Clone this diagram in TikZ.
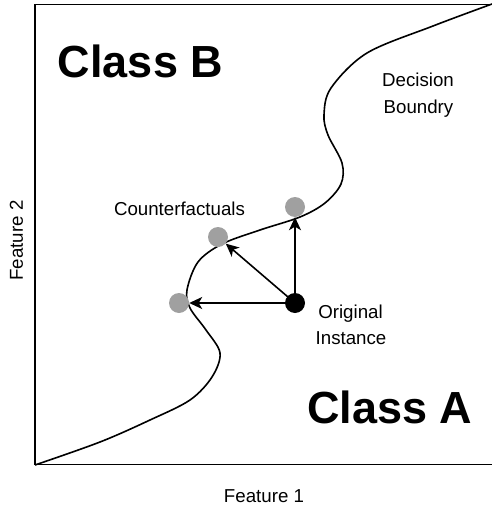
\documentclass[tikz,border=0pt]{standalone}
\usepackage{fontspec}
\setmainfont{Liberation Sans}
\usetikzlibrary{arrows.meta}
\definecolor{dotgray}{RGB}{160,160,160}
\begin{document}
\begin{tikzpicture}[x=1pt,y=-1pt,
  frame/.style={line width=1.6pt,line cap=butt},
  boundary/.style={line width=1.6pt},
  dot/.style={circle,minimum size=20pt,inner sep=0pt,draw=none},
  arr/.style={line width=1.6pt,-{Stealth[length=13pt,width=12pt,inset=3.5pt]}},
  small/.style={font=\fontsize{18.7}{22}\selectfont,inner sep=0pt,anchor=base},
  big/.style={font=\fontsize{45}{50}\selectfont\bfseries,inner sep=0pt,anchor=base}]
\useasboundingbox (0,0) rectangle (492,506);
\draw[frame] (493,4.5) -- (35,4.5) -- (35,464.5) -- (493,464.5);
\draw[boundary] plot[smooth,tension=0.55] coordinates {
  (35,465) (100,442) (150,420) (190,400) (212,377) (220,353) (206,330)
  (190,308) (187,290) (198,262) (222,244) (260,230) (300,217) (325,203)
  (341,184) (342,163) (328,135) (324,115) (331,88) (367,53) (433,26) (492,4)};
\node[dot,fill=dotgray] (cfL) at (179,303) {};
\node[dot,fill=dotgray] (cfM) at (218,237) {};
\node[dot,fill=dotgray] (cfT) at (295,207) {};
\node[dot,fill=black] (orig) at (295,303) {};
\draw[arr] (orig.center) -- (cfL);
\draw[arr] (orig.center) -- (cfM);
\draw[arr] (orig.center) -- (cfT);
\node[big] (clB) at (140.5,77) {Class B};
\node[big] (clA) at (390,423) {Class A};
\node[small] (dec1) at (418,86) {Decision};
\node[small] (dec2) at (418.5,113) {Boundry};
\node[small] (cft) at (179.5,215) {Counterfactuals};
\node[small] (or1) at (350.5,318) {Original};
\node[small] (or2) at (351,344) {Instance};
\node[small] (f1) at (264,502) {Feature 1};
\node[small,rotate=90] (f2) at (23,240.5) {Feature 2};
\end{tikzpicture}
\end{document}
